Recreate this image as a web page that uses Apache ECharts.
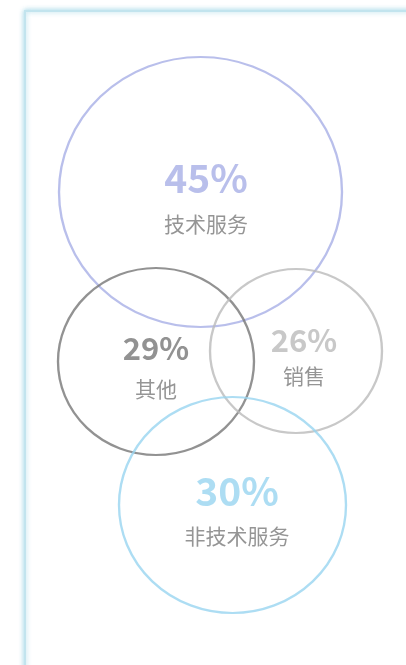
<!DOCTYPE html>
<html>
<head>
<meta charset="utf-8">
<script src="https://cdn.jsdelivr.net/npm/echarts@6/dist/echarts.min.js"></script>
<style>
  html, body { margin: 0; padding: 0; background: #fff; }
  #chart { width: 406px; height: 665px; }
</style>
</head>
<body>
<div id="chart"></div>
<script>
// ---- data ----
const categories = ['技术服务', '其他', '销售', '非技术服务'];
const percentValues = [45, 29, 26, 30];
// bubble centres in chart units (x across, y down)
const bubbleX = [200.5, 156, 296, 232.5];
const bubbleY = [192, 361.5, 351, 505];

// ---- styles ----
const bubbleSizes = [[283, 270], [196, 187], [172, 164], [227, 216]];
const colors = ['#a7afe6', '#777777', '#bababa', '#98d5f0'];
const pctFont = [39, 31, 31, 39];
const pctLine = [64, 53, 43, 63];
const labelOffsets = [[5.5, 0], [0, 1], [8, 3.5], [4.5, 0]];
const FONT = '"Noto Sans CJK SC", "Noto Sans", sans-serif';

const chart = echarts.init(document.getElementById('chart'));

const data = categories.map((name, i) => ({
  name: name,
  value: [bubbleX[i], bubbleY[i], percentValues[i]],
  symbolSize: bubbleSizes[i],
  itemStyle: { color: 'rgba(255,255,255,0)', borderColor: colors[i], borderWidth: 2.3 },
  label: {
    show: true,
    position: 'inside',
    offset: labelOffsets[i],
    formatter: (p) => '{p|' + p.value[2] + '%}\n{n|' + p.name + '}',
    rich: {
      p: { fontSize: pctFont[i], fontWeight: 'bold', color: colors[i], lineHeight: pctLine[i], fontFamily: FONT, align: 'center' },
      n: { fontSize: 21, color: '#7a7a7a', lineHeight: 28, fontFamily: FONT, align: 'center' }
    }
  }
}));

chart.setOption({
  animation: false,
  graphic: [{
    type: 'rect',
    z: -10,
    silent: true,
    shape: { x: 25, y: 11, width: 420, height: 700 },
    style: { fill: '#fff', stroke: '#c2e4ee', lineWidth: 2, shadowBlur: 5, shadowColor: 'rgba(140,205,225,0.8)' }
  }],
  grid: { left: 0, right: 0, top: 0, bottom: 0 },
  xAxis: { type: 'value', min: 0, max: 406, show: false },
  yAxis: { type: 'value', min: 0, max: 665, inverse: true, show: false },
  series: [{
    type: 'scatter',
    symbol: 'circle',
    silent: true,
    emphasis: { disabled: true },
    data: data
  }]
});
</script>
</body>
</html>
